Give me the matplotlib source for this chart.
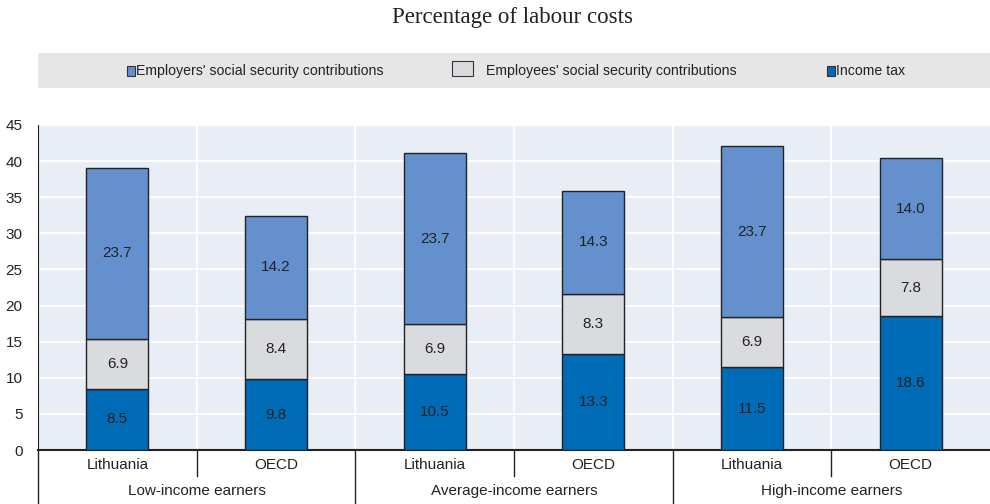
import matplotlib.pyplot as plt
from matplotlib.patches import Rectangle

plt.rcParams['font.family'] = ['Liberation Sans', 'DejaVu Sans']

countries = ['Lithuania', 'OECD', 'Lithuania', 'OECD', 'Lithuania', 'OECD']
groups = ['Low-income earners', 'Average-income earners', 'High-income earners']
income_tax = [8.5, 9.8, 10.5, 13.3, 11.5, 18.6]
employee_ssc = [6.9, 8.4, 6.9, 8.3, 6.9, 7.8]
employer_ssc = [23.7, 14.2, 23.7, 14.3, 23.7, 14.0]

c_tax = '#006BB6'
c_ee = '#DADBDE'
c_er = '#6491CD'

fig = plt.figure(figsize=(9.9, 5.04), dpi=100)
ax = fig.add_axes([0.0384, 0.107, 0.9616, 0.645])
ax.set_facecolor('#E9EDF6')

x = list(range(len(countries)))
w = 0.39
bottom2 = [a + b for a, b in zip(income_tax, employee_ssc)]
ax.bar(x, income_tax, w, color=c_tax, edgecolor='#222222', linewidth=1, zorder=3)
ax.bar(x, employee_ssc, w, bottom=income_tax, color=c_ee, edgecolor='#222222', linewidth=1, zorder=3)
ax.bar(x, employer_ssc, w, bottom=bottom2, color=c_er, edgecolor='#222222', linewidth=1, zorder=3)

for i in x:
    ax.text(i, income_tax[i] / 2, f'{income_tax[i]:.1f}', ha='center', va='center', fontsize=11, color='#222222', zorder=4)
    ax.text(i, income_tax[i] + employee_ssc[i] / 2, f'{employee_ssc[i]:.1f}', ha='center', va='center', fontsize=11, color='#222222', zorder=4)
    ax.text(i, bottom2[i] + employer_ssc[i] / 2, f'{employer_ssc[i]:.1f}', ha='center', va='center', fontsize=11, color='#222222', zorder=4)

ax.set_xlim(-0.5, len(countries) - 0.5)
ax.set_ylim(0, 45)
ax.set_yticks(range(0, 46, 5))
ax.tick_params(axis='y', length=0, labelsize=11, pad=11, colors='#222222')
ax.set_xticks([])
ax.grid(axis='y', color='white', linewidth=1.3, zorder=1)
for b in [0.5, 1.5, 2.5, 3.5, 4.5]:
    ax.axvline(b, color='white', linewidth=1.3, zorder=1)
for s in ['top', 'right']:
    ax.spines[s].set_visible(False)
ax.spines['left'].set_color('#222222')
ax.spines['bottom'].set_color('#222222')
ax.spines['bottom'].set_linewidth(1.5)

# category labels under the axis
trans = ax.get_xaxis_transform()
for i, c in enumerate(countries):
    ax.text(i, -0.045, c, transform=trans, ha='center', va='center', fontsize=11, color='#222222')
for g, name in enumerate(groups):
    ax.text(2 * g + 0.5, -0.125, name, transform=trans, ha='center', va='center', fontsize=11, color='#222222')
for b in [0.5, 2.5, 4.5]:
    ax.plot([b, b], [0, -0.08], transform=trans, color='#222222', linewidth=1, clip_on=False)
for b in [-0.5, 1.5, 3.5]:
    ax.plot([b, b], [0, -0.2], transform=trans, color='#222222', linewidth=1, clip_on=False)

# legend band
fig.patches.append(Rectangle((0.0384, 0.825), 0.9616, 0.07, transform=fig.transFigure,
                             facecolor='#E6E6E6', edgecolor='none', zorder=0))
items = [(0.128, 'Employers\' social security contributions', c_er, 0.008),
         (0.457, 'Employees\' social security contributions', c_ee, 0.021),
         (0.835, 'Income tax', c_tax, 0.008)]
for xpos, label, col, sz in items:
    fig.patches.append(Rectangle((xpos, 0.849), sz, 0.02 if sz < 0.01 else 0.03,
                                 transform=fig.transFigure, facecolor=col,
                                 edgecolor='#333333', linewidth=0.8))
for xpos, label, col, sz in items:
    off = 0.001 if sz < 0.01 else 0.013
    fig.text(xpos + sz + off, 0.859, label, ha='left', va='center', fontsize=10.2, color='#222222')

fig.text(0.518, 0.965, 'Percentage of labour costs', ha='center', va='center',
         fontsize=16.5, family='Liberation Serif', color='#222222')

fig.savefig('out.png', dpi=100)
